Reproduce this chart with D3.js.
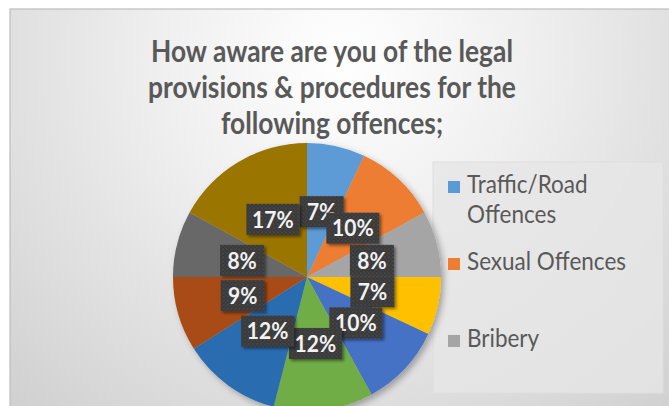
<!DOCTYPE html>
<html><head><meta charset="utf-8">
<script src="https://cdn.jsdelivr.net/npm/d3@7"></script>
<style>body{margin:0;background:#fff;overflow:hidden}svg{display:block}</style>
</head><body><svg id="c" width="669" height="406"></svg>
<script>
// ---- data ----
const titleLines = ["How aware are you of the legal", "provisions & procedures for the", "following offences;"];
const categories = ["Traffic/Road Offences", "Sexual Offences", "Bribery", "Offence 4", "Offence 5", "Offence 6", "Offence 7", "Offence 8", "Offence 9", "Offence 10"];
const values = [7, 10, 8, 7, 10, 12, 12, 9, 8, 17];
const legendCategories = ["Traffic/Road Offences", "Sexual Offences", "Bribery"];
const legendLines = [["Traffic/Road", "Offences"], ["Sexual Offences"], ["Bribery"]];
const colors = ["#5B9BD5", "#ED7D31", "#A5A5A5", "#FFC000", "#4472C4", "#70AD47", "#2B6CB0", "#A84C12", "#676767", "#9A7500"];

const svg = d3.select("#c");
const W = 669, H = 406;
const defs = svg.append("defs");

// background gradient
const rg = defs.append("radialGradient").attr("id", "bg")
  .attr("cx", "0.5").attr("cy", "0.12").attr("r", "0.75")
  .attr("gradientTransform", "translate(0.5 0.12) scale(1 1.6) translate(-0.5 -0.12)");
rg.append("stop").attr("offset", "0").attr("stop-color", "#ffffff");
rg.append("stop").attr("offset", "0.35").attr("stop-color", "#f0f0f0");
rg.append("stop").attr("offset", "1").attr("stop-color", "#cfcfcf");

const pat = defs.append("pattern").attr("id", "dots").attr("width", 4).attr("height", 4)
  .attr("patternUnits", "userSpaceOnUse");
pat.append("rect").attr("width", 4).attr("height", 4).attr("fill", "#383838");
pat.append("circle").attr("cx", 1).attr("cy", 1).attr("r", 0.9).attr("fill", "#4e4e4e");
pat.append("circle").attr("cx", 3).attr("cy", 3).attr("r", 0.9).attr("fill", "#454545");

const sh = defs.append("filter").attr("id", "sh").attr("x", "-20%").attr("y", "-20%").attr("width", "150%").attr("height", "150%");
sh.append("feDropShadow").attr("dx", 2).attr("dy", 2).attr("stdDeviation", 1.5).attr("flood-color", "#000").attr("flood-opacity", 0.45);
const psh = defs.append("filter").attr("id", "psh").attr("x", "-10%").attr("y", "-10%").attr("width", "125%").attr("height", "125%");
psh.append("feDropShadow").attr("dx", 3).attr("dy", 3).attr("stdDeviation", 3).attr("flood-color", "#000").attr("flood-opacity", 0.3);

svg.append("rect").attr("x", 10).attr("y", 9).attr("width", W).attr("height", H)
  .attr("fill", "url(#bg)").attr("stroke", "#bdbdbd").attr("stroke-width", 1.2);

// title
const title = svg.append("g").attr("font-family", "Lato, 'Open Sans', sans-serif")
  .attr("font-weight", "bold").attr("fill", "#595959").attr("text-anchor", "middle");
titleLines.forEach((t, i) => {
  const by = 62 + i * 36;
  title.append("text").attr("x", 332).attr("y", by).attr("font-size", 27)
    .attr("transform", `translate(0 ${by}) scale(1 1.12) translate(0 ${-by})`).text(t);
});
(function(){
  const n = title.select("text").node();
  const w = n.getComputedTextLength();
  title.selectAll("text").attr("font-size", 27 * 362 / w);
})();

// legend box
svg.append("rect").attr("x", 433).attr("y", 162).attr("width", 230).attr("height", 231)
  .attr("fill", "#e6e6e6").attr("fill-opacity", 0.8).attr("stroke", "#dedede");

// pie
const cx = 307, cy = 277, R = 134;
const pie = d3.pie().sort(null).value(d => d)(values);
const arc = d3.arc().innerRadius(0).outerRadius(R);
const lab = d3.arc().innerRadius(67).outerRadius(67);
const pg = svg.append("g").attr("transform", `translate(${cx},${cy})`);
pg.append("g").attr("filter", "url(#psh)").selectAll("path").data(pie).join("path")
  .attr("d", arc).attr("fill", (d, i) => colors[i]);

const lg = pg.append("g").attr("font-family", "Lato, 'Open Sans', sans-serif").attr("font-weight", "bold")
  .attr("font-size", 21);
pie.forEach((d, i) => {
  const [x, y] = lab.centroid(d);
  const g = lg.append("g").attr("transform", `translate(${x},${y})`);
  const txt = d3.format(".0%")(d.data / 100);
  const bw = txt.length === 2 ? 44 : 53, bh = 31;
  g.append("rect").attr("x", -bw / 2).attr("y", -bh / 2).attr("width", bw).attr("height", bh)
    .attr("fill", "url(#dots)").attr("filter", "url(#sh)");
  g.append("text").attr("text-anchor", "middle").attr("dy", "0.36em").attr("fill", "#f2f2f2")
    .attr("transform", "scale(1 1.08)").text(txt);
});

// legend
const leg = svg.append("g").attr("font-family", "Lato, 'Open Sans', sans-serif").attr("fill", "#595959");
const legY = [193, 270, 347];
legendCategories.forEach((c, i) => {
  const ci = categories.indexOf(c);
  leg.append("rect").attr("x", 448).attr("y", legY[i] - 12).attr("width", 12).attr("height", 12).attr("fill", colors[ci]);
  legendLines[i].forEach((t, j) => {
    const by = legY[i] + j * 30;
    leg.append("text").attr("class", "lt").attr("x", 467).attr("y", by).attr("font-size", 21)
      .attr("transform", `translate(0 ${by}) scale(1 1.1) translate(0 ${-by})`).text(t);
  });
});
(function(){
  const n = leg.selectAll("text.lt").filter(function(){ return this.textContent === "Sexual Offences"; }).node();
  const w = n.getComputedTextLength();
  leg.selectAll("text.lt").attr("font-size", 21 * 159 / w);
})();
</script></body></html>
